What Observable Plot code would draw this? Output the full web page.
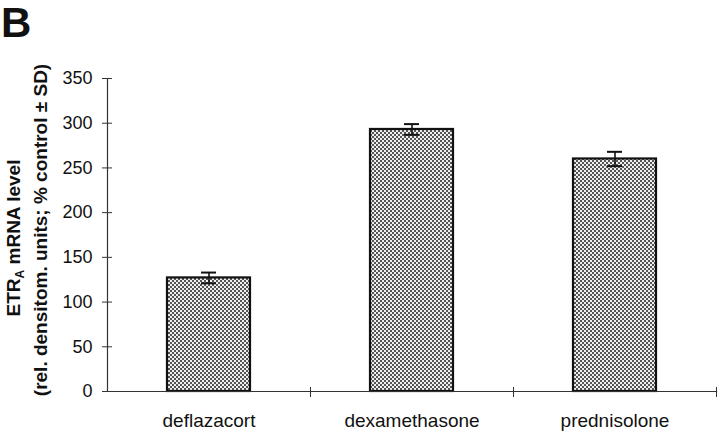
<!DOCTYPE html>
<html>
<head>
<meta charset="utf-8">
<script src="https://cdn.jsdelivr.net/npm/d3@7"></script>
<script src="https://cdn.jsdelivr.net/npm/@observablehq/plot@0.6"></script>
<style>
  body { margin: 0; background: #fff; }
  #chart { position: relative; width: 720px; height: 435px; }
  svg { font-family: Arial, "Liberation Sans", sans-serif; }
</style>
</head>
<body>
<div id="chart"></div>
<script>
const categories = ["deflazacort", "dexamethasone", "prednisolone"];
const values = [127, 293, 260];
const sds = [6, 6, 8];
const yTicks = [0, 50, 100, 150, 200, 250, 300, 350];
const panelLabel = "B";
const yLabelLine1 = ["ETR", "A", " mRNA level"];
const yLabelLine2 = "(rel. densitom. units; % control \u00b1 SD)";

const data = categories.map((c, i) => ({cat: c, value: values[i], sd: sds[i]}));

const W = 720, H = 435;
const mL = 107, mR = 4, mT = 78, mB = 44;
const step = (W - mL - mR) / categories.length;

const plot = Plot.plot({
  width: W,
  height: H,
  marginLeft: mL,
  marginRight: mR,
  marginTop: mT,
  marginBottom: mB,
  style: {fontFamily: "Arial, 'Liberation Sans', sans-serif", fontSize: "18px", color: "#111", background: "#fff"},
  x: {domain: categories, paddingInner: 0.59, paddingOuter: 0.295, label: null},
  y: {domain: [0, 350], label: null},
  marks: [
    Plot.barY(data, {x: "cat", y: "value", fill: "url(#stipple)", stroke: "#111", strokeWidth: 2.2}),
    Plot.ruleX(data, {x: "cat", y1: d => d.value - d.sd, y2: d => d.value + d.sd, stroke: "#111", strokeWidth: 1.6}),
    Plot.tickY(data, {x: "cat", y: d => d.value + d.sd, insetLeft: 34, insetRight: 34, stroke: "#111", strokeWidth: 2}),
    Plot.tickY(data, {x: "cat", y: d => d.value - d.sd, insetLeft: 34, insetRight: 34, stroke: "#111", strokeWidth: 2}),
    Plot.frame({anchor: "left", stroke: "#333", strokeWidth: 1.2}),
    Plot.frame({anchor: "bottom", stroke: "#333", strokeWidth: 1.2}),
    // y tick marks crossing the axis
    Plot.axisY({ticks: yTicks, tickSize: 10, dx: 5, text: null, stroke: "#333"}),
    // y tick labels
    Plot.axisY({ticks: yTicks, tickSize: 0, tickPadding: 15, fontSize: 18, fill: "#111"}),
    // x boundary ticks
    Plot.axisX({tickSize: 10, dx: step / 2, dy: -4, text: null, stroke: "#333"}),
    // x labels
    Plot.axisX({tickSize: 0, tickPadding: 22, fontSize: 19, fill: "#111"})
  ]
});

document.getElementById("chart").appendChild(plot);

const svg = d3.select(plot);
const defs = svg.insert("defs", ":first-child");
const pat = defs.append("pattern").attr("id", "stipple").attr("patternUnits", "userSpaceOnUse")
  .attr("width", 4).attr("height", 4);
pat.append("rect").attr("width", 4).attr("height", 4).attr("fill", "#efefef");
pat.append("rect").attr("x", 0).attr("y", 0).attr("width", 2).attr("height", 2).attr("fill", "#555");
pat.append("rect").attr("x", 2).attr("y", 2).attr("width", 2).attr("height", 2).attr("fill", "#555");

// Panel letter
svg.append("text").attr("x", 1).attr("y", 37).attr("text-anchor", "start")
  .attr("font-size", 42).attr("font-weight", "bold").attr("fill", "#111").text(panelLabel);

// Y-axis title, two bold lines
const t1 = svg.append("text")
  .attr("transform", `translate(20,238) rotate(-90)`)
  .attr("text-anchor", "middle").attr("font-weight", "bold").attr("font-size", 19).attr("fill", "#111");
t1.append("tspan").text(yLabelLine1[0]);
t1.append("tspan").attr("font-size", 12).attr("dy", 4).text(yLabelLine1[1]);
t1.append("tspan").attr("dy", -4).text(yLabelLine1[2]);
svg.append("text")
  .attr("transform", `translate(47,230) rotate(-90)`)
  .attr("text-anchor", "middle").attr("font-weight", "bold").attr("font-size", 19).attr("fill", "#111")
  .text(yLabelLine2);
</script>
</body>
</html>
